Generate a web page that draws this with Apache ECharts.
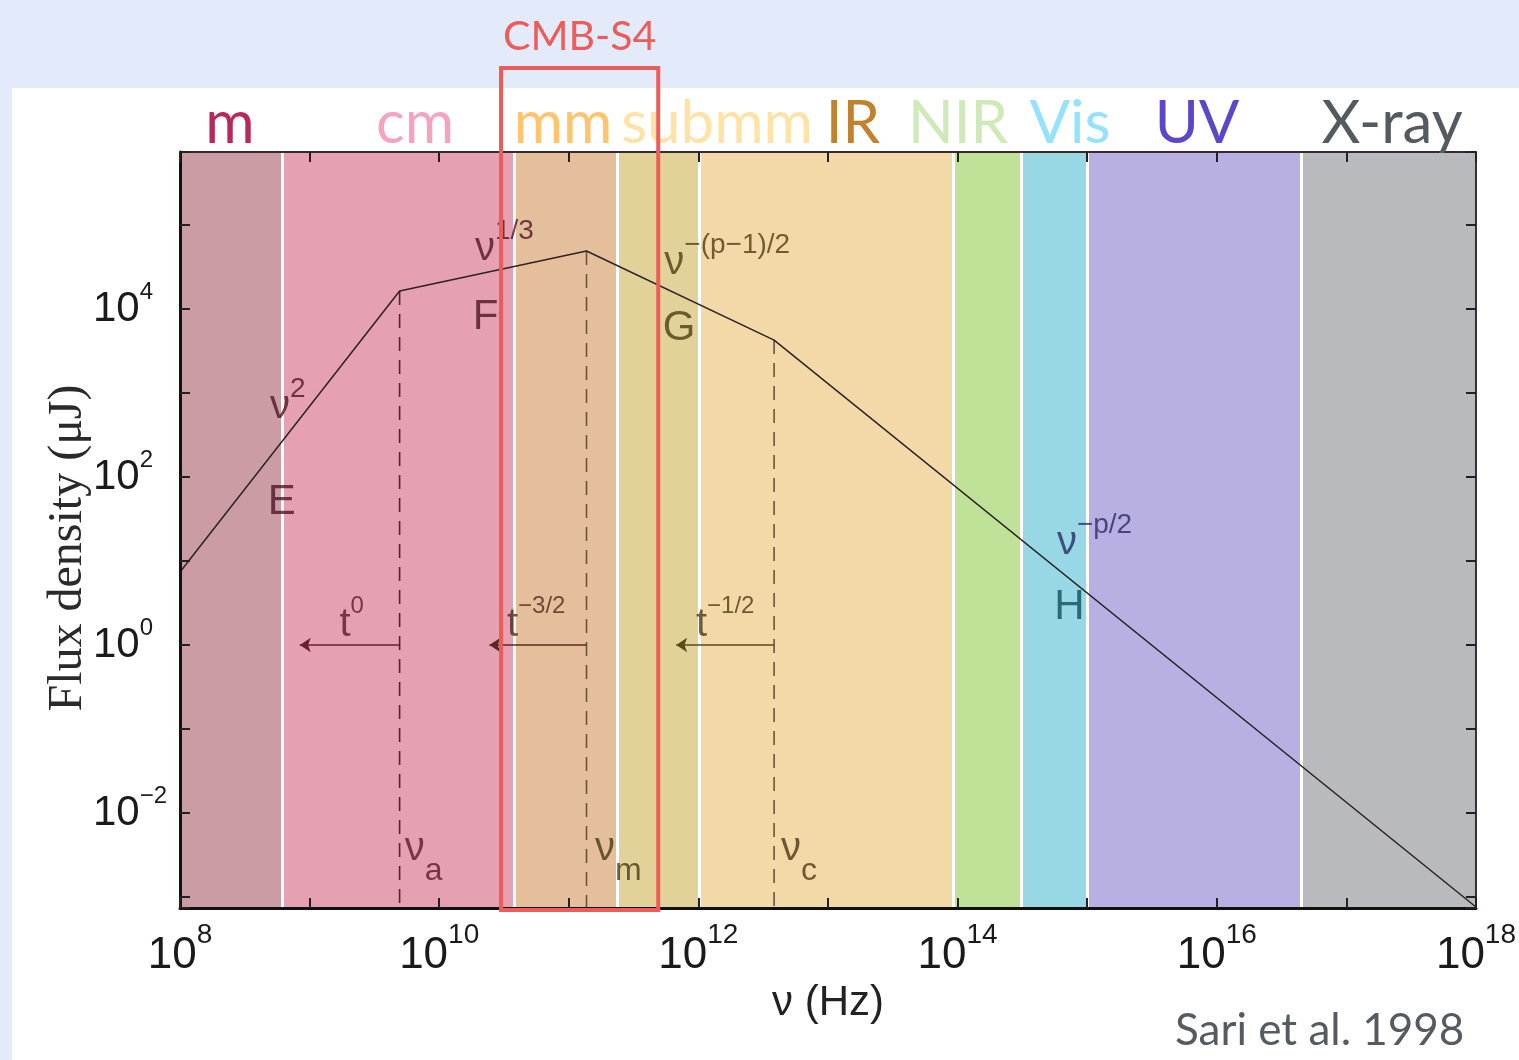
<!DOCTYPE html>
<html>
<head>
<meta charset="utf-8">
<script src="https://cdn.jsdelivr.net/npm/echarts@6/dist/echarts.min.js"></script>
<style>
  html, body { margin: 0; padding: 0; background: #e3eaf9; }
  #chart { width: 1519px; height: 1060px; }
</style>
</head>
<body>
<div id="chart"></div>
<script>
// spectral bands, edges in Hz
var bandNames = ['m', 'cm', 'mm', 'submm', 'IR', 'NIR', 'Vis', 'UV', 'X-ray'];
var bandEdges = [1e8, 6.2e8, 3.8e10, 2.35e11, 1.02e12, 9.3e13, 3.1e14, 1.0e15, 4.5e16, 1e18];
var bandColors = ['#cc9ca5', '#e5a1b2', '#e5bf9b', '#e2d29a', '#f3d8a8', '#c0e298', '#98d8e4', '#b8b0e2', '#b9babe'];
var bandTextColors = ['#b9285a', '#f4a4c0', '#ffc46e', '#ffe3a6', '#c0822c', '#cfe9b8', '#94e2fb', '#5a48c8', '#535a60'];

// broken power-law spectrum (flux density in μJ)
var specNu = [1e8, 4.95e9, 1.37e11, 3.84e12, 1e18];
var specFlux = [7.4, 16400, 49000, 4270, 7.6e-4];

// break frequencies and their time evolution arrows
var breakNu = [4.95e9, 1.37e11, 3.84e12];
var breakFlux = [16400, 49000, 4270];
var arrowEndNu = [8.4e8, 2.44e10, 6.74e11];
var arrowFlux = 1;

var nuMin = 1e8, nuMax = 1e18;
var fluxMin = 7.4e-4, fluxMax = 7.4e5;
var cmbS4Range = [3.0e10, 4.9e11];

var dashColors = ['#5a2030', '#6a5535', '#6a5535'];
var arrowColors = ['#6a1e35', '#5a2a20', '#5a4a1a'];

// annotation texts placed at (nu, flux)
var notes = [
  { text: '{v|ν}{s|2}', nu: 6.8e8, flux: 680, color: '#4d1626' },
  { text: '{c|E}', nu: 6.1e8, flux: 50, color: '#4d1626' },
  { text: '{v|ν}{s|1/3}', nu: 3.19e10, flux: 51800, color: '#4d1626' },
  { text: '{c|F}', nu: 2.28e10, flux: 7900, color: '#4d1626' },
  { text: '{v|ν}{s|−(p−1)/2}', nu: 1.67e12, flux: 35300, color: '#4f3d12' },
  { text: '{c|G}', nu: 7.1e11, flux: 5900, color: '#4f3d12' },
  { text: '{v|ν}{s|−p/2}', nu: 1.14e15, flux: 16.4, color: '#2b2a66' },
  { text: '{c|H}', nu: 7.3e14, flux: 2.8, color: '#0f4d59' },
  { text: '{t|t}{ts|0}', nu: 2.11e9, flux: 1.73, color: '#5a1a2e' },
  { text: '{t|t}{ts|−3/2}', nu: 5.6e10, flux: 1.73, color: '#4f2a1a' },
  { text: '{t|t}{ts|−1/2}', nu: 1.61e12, flux: 1.73, color: '#4a3a12' },
  { text: '{n|ν}{b|a}', nu: 7.6e9, flux: 3.73e-3, color: '#5a1a2e' },
  { text: '{n|ν}{b|m}', nu: 2.41e11, flux: 3.73e-3, color: '#4a3a12' },
  { text: '{n|ν}{b|c}', nu: 5.98e12, flux: 3.73e-3, color: '#4a3a12' }
];

var sansFont = 'Liberation Sans';
var narrowFont = '"Liberation Sans Narrow", "Liberation Sans", sans-serif';

function powLabel(value) {
  var e = Math.log10(value);
  var r = Math.round(e);
  if (Math.abs(e - r) > 1e-6 || r % 2 !== 0) return '';
  return '{b|10}{s|' + (r < 0 ? '−' + (-r) : r) + '}';
}

var chart = echarts.init(document.getElementById('chart'));

var bandAreas = [];
for (var i = 0; i < bandNames.length; i++) {
  bandAreas.push([
    { name: bandNames[i], xAxis: bandEdges[i], itemStyle: { color: bandColors[i] } },
    { xAxis: bandEdges[i + 1] }
  ]);
}

var series = [{
  name: 'bands',
  type: 'line',
  data: [],
  z: 1,
  silent: true,
  markArea: { silent: true, label: { show: false }, data: bandAreas },
  markLine: {
    silent: true,
    symbol: 'none',
    label: { show: false },
    lineStyle: { color: '#ffffff', width: 3, type: 'solid' },
    data: bandEdges.slice(1, -1).map(function (v) { return { xAxis: v }; })
  }
}, {
  name: 'spectrum',
  type: 'line',
  z: 5,
  showSymbol: false,
  silent: true,
  lineStyle: { color: '#2b2326', width: 1.5 },
  data: specNu.map(function (v, i) { return [v, specFlux[i]]; })
}];

breakNu.forEach(function (nu, i) {
  series.push({
    type: 'line',
    z: 4,
    showSymbol: false,
    silent: true,
    lineStyle: { color: dashColors[i], width: 1.6, type: [14, 9] },
    data: [[nu, breakFlux[i]], [nu, fluxMin]]
  });
});

series.push({
  name: 'arrows',
  type: 'line',
  data: [],
  z: 4,
  silent: true,
  markLine: {
    silent: true,
    symbol: ['none', 'arrow'],
    symbolSize: 11,
    label: { show: false },
    data: breakNu.map(function (nu, i) {
      return [
        { coord: [nu, arrowFlux], lineStyle: { color: arrowColors[i], width: 1.6, type: 'solid' } },
        { coord: [arrowEndNu[i], arrowFlux] }
      ];
    })
  }
});

series.push({
  name: 'notes',
  type: 'scatter',
  z: 6,
  silent: true,
  symbolSize: 0.1,
  itemStyle: { color: 'rgba(0,0,0,0)' },
  label: {
    show: true,
    position: 'inside',
    fontFamily: sansFont,
    rich: {
      v: { fontSize: 40, lineHeight: 64, verticalAlign: 'middle', fontFamily: sansFont },
      s: { fontSize: 28, lineHeight: 28, verticalAlign: 'top', fontFamily: sansFont },
      c: { fontSize: 42, lineHeight: 42, fontFamily: sansFont },
      t: { fontSize: 40, lineHeight: 62, verticalAlign: 'middle', fontFamily: sansFont },
      ts: { fontSize: 24, lineHeight: 24, verticalAlign: 'top', fontFamily: sansFont },
      n: { fontSize: 40, lineHeight: 76, verticalAlign: 'middle', fontFamily: sansFont },
      b: { fontSize: 32, lineHeight: 32, verticalAlign: 'bottom', fontFamily: sansFont }
    }
  },
  data: notes.map(function (n) {
    return { value: [n.nu, n.flux], label: { formatter: n.text, color: n.color } };
  })
});

var tickStyle = { color: '#222', width: 2 };

var option = {
  backgroundColor: 'transparent',
  animation: false,
  grid: { left: 180, top: 152, width: 1298, height: 756, containLabel: false },
  xAxis: [{
    type: 'log',
    logBase: 10,
    min: nuMin,
    max: nuMax,
    interval: 1,
    z: 10,
    name: 'ν (Hz)',
    nameLocation: 'middle',
    nameGap: 74,
    nameMoveOverlap: false,
    nameTextStyle: { fontFamily: narrowFont, fontSize: 42, color: '#222' },
    axisLine: { show: true, lineStyle: { color: '#111', width: 3 } },
    axisTick: { show: true, inside: true, length: 10, lineStyle: tickStyle },
    splitLine: { show: false },
    axisLabel: {
      margin: 13,
      color: '#1a1a1a',
      formatter: powLabel,
      rich: {
        b: { fontSize: 44, lineHeight: 70, verticalAlign: 'middle', fontFamily: narrowFont },
        s: { fontSize: 28, lineHeight: 28, verticalAlign: 'top', fontFamily: narrowFont }
      }
    }
  }, {
    type: 'log',
    logBase: 10,
    min: nuMin,
    max: nuMax,
    interval: 1,
    position: 'top',
    z: 10,
    axisLine: { show: true, lineStyle: { color: '#3a2a2e', width: 2 } },
    axisTick: { show: true, inside: true, length: 10, lineStyle: tickStyle },
    splitLine: { show: false },
    axisLabel: { show: false }
  }],
  yAxis: [{
    type: 'log',
    logBase: 10,
    min: fluxMin,
    max: fluxMax,
    z: 10,
    axisLine: { show: true, lineStyle: { color: '#111', width: 3 } },
    axisTick: { show: true, inside: true, length: 10, lineStyle: tickStyle },
    splitLine: { show: false },
    axisLabel: {
      align: 'left',
      margin: 87,
      color: '#1a1a1a',
      formatter: powLabel,
      rich: {
        b: { fontSize: 42, lineHeight: 58, verticalAlign: 'middle', fontFamily: narrowFont },
        s: { fontSize: 24, lineHeight: 24, verticalAlign: 'top', fontFamily: narrowFont }
      }
    }
  }, {
    type: 'log',
    logBase: 10,
    min: fluxMin,
    max: fluxMax,
    position: 'right',
    z: 10,
    axisLine: { show: true, lineStyle: { color: '#333', width: 2 } },
    axisTick: { show: true, inside: true, length: 10, lineStyle: tickStyle },
    splitLine: { show: false },
    axisLabel: { show: false }
  }],
  series: series
};

chart.setOption(option);

// overlay: panel, band names, CMB-S4 box, titles
var boxLeft = chart.convertToPixel({ xAxisIndex: 0 }, cmbS4Range[0]);
var boxRight = chart.convertToPixel({ xAxisIndex: 0 }, cmbS4Range[1]);
var bandLabelX = [230, 415, 563, 717, 853, 958, 1070, 1197, 1392];

var graphics = [{
  type: 'rect',
  z: -10,
  silent: true,
  shape: { x: 12, y: 88, width: 1507, height: 972 },
  style: { fill: '#ffffff' }
}];
bandNames.forEach(function (name, i) {
  graphics.push({
    type: 'text',
    z: 50,
    silent: true,
    style: {
      x: bandLabelX[i], y: 124, text: name,
      fill: bandTextColors[i],
      font: '60px Lato',
      textAlign: 'center', textVerticalAlign: 'middle'
    }
  });
});
graphics.push({
  type: 'rect',
  z: 60,
  silent: true,
  shape: { x: boxLeft, y: 68, width: boxRight - boxLeft, height: 842 },
  style: { fill: 'none', stroke: '#ec5c58', lineWidth: 4 }
}, {
  type: 'text',
  z: 60,
  silent: true,
  style: {
    x: (boxLeft + boxRight) / 2, y: 37, text: 'CMB-S4',
    fill: '#ec5c58', font: '41px Lato',
    textAlign: 'center', textVerticalAlign: 'middle'
  }
}, {
  type: 'text',
  z: 50,
  silent: true,
  x: 68, y: 548,
  rotation: Math.PI / 2,
  style: {
    x: 0, y: 0, text: 'Flux density (μJ)',
    fill: '#2a2a2a', font: '48px "Liberation Serif"',
    textAlign: 'center', textVerticalAlign: 'middle'
  }
}, {
  type: 'text',
  z: 50,
  silent: true,
  style: {
    x: 1175, y: 1031, text: 'Sari et al. 1998',
    fill: '#555b60', font: '44px Lato',
    textAlign: 'left', textVerticalAlign: 'middle'
  }
});

chart.setOption({ graphic: graphics });
</script>
</body>
</html>
